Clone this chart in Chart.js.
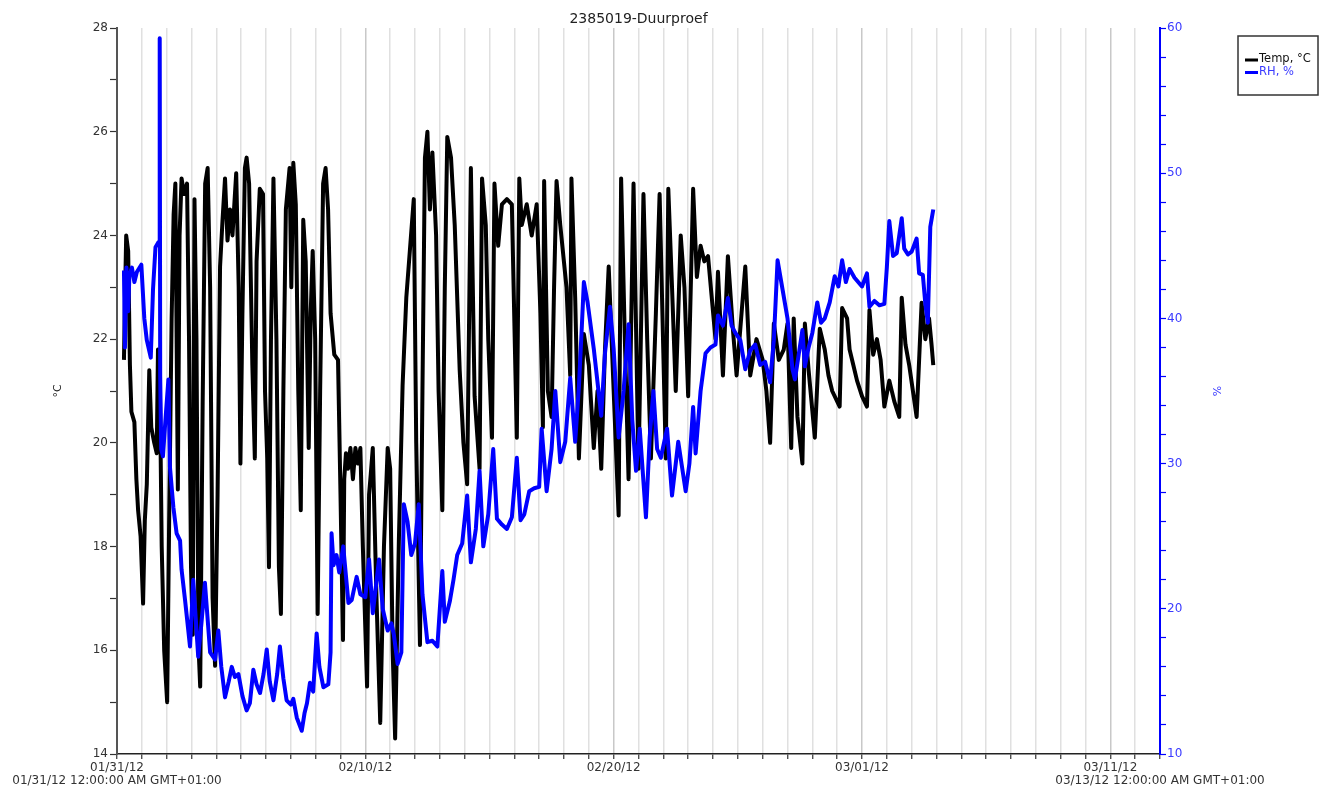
<!DOCTYPE html>
<html>
<head>
<meta charset="utf-8">
<title>2385019-Duurproef</title>
<script src="https://cdn.jsdelivr.net/npm/chart.js@4.4.1/dist/chart.umd.min.js"></script>
<style>
  html, body { margin: 0; padding: 0; background: #ffffff; }
  #wrap { width: 1330px; height: 791px; }
  canvas { display: block; }
</style>
</head>
<body>
<div id="wrap"><canvas id="chart" width="1330" height="791"></canvas></div>
<script>
// Logger run 2385019: days since 01/31/12 00:00 (GMT+01:00)
const tempDays = [
  0.28, 0.33, 0.37, 0.45, 0.52, 0.58, 0.70, 0.78, 0.85, 0.95, 1.05, 1.12, 1.20, 1.30, 1.38, 1.50, 1.60, 1.65, 1.72, 1.80, 1.90,
  2.02, 2.10, 2.20, 2.28, 2.35, 2.45, 2.52, 2.60, 2.70, 2.82, 2.90, 2.98,
  3.05, 3.12, 3.20, 3.28, 3.35, 3.45, 3.55, 3.65, 3.75, 3.85, 3.95,
  4.05, 4.15, 4.25, 4.35, 4.45, 4.55, 4.65, 4.80, 4.90, 4.97,
  5.05, 5.15, 5.22, 5.32, 5.45, 5.55, 5.62, 5.75, 5.88, 5.96,
  6.05, 6.12, 6.20, 6.30, 6.42, 6.52, 6.60, 6.70, 6.80, 6.95,
  7.02, 7.10, 7.20, 7.30, 7.40, 7.50, 7.60, 7.72, 7.80, 7.88, 7.98,
  8.08, 8.18, 8.30, 8.40, 8.50, 8.60, 8.75, 8.90,
  9.00, 9.10, 9.15, 9.22, 9.30, 9.40, 9.50, 9.60, 9.70, 9.80, 9.90,
  10.07, 10.15, 10.22, 10.30, 10.45, 10.60, 10.75, 10.90,
  11.00, 11.10, 11.20, 11.35, 11.50, 11.65, 11.80, 11.95,
  12.05, 12.20, 12.30, 12.40, 12.50, 12.60, 12.70, 12.85, 12.95,
  13.10, 13.20, 13.30, 13.45, 13.60, 13.80, 13.95,
  14.10, 14.25, 14.40, 14.60, 14.70, 14.85, 14.95,
  15.10, 15.20, 15.35, 15.50, 15.70, 15.90,
  16.10, 16.20, 16.30, 16.50, 16.70, 16.90,
  17.05, 17.15, 17.20, 17.35, 17.50, 17.60, 17.70, 17.85,
  18.10, 18.25, 18.30, 18.45, 18.60, 18.80,
  19.00, 19.20, 19.35, 19.50, 19.65, 19.80,
  20.00, 20.20, 20.30, 20.45, 20.60, 20.80,
  21.00, 21.20, 21.35, 21.50, 21.70, 21.85,
  22.10, 22.20, 22.35, 22.50, 22.70, 22.85,
  23.00, 23.20, 23.35, 23.50, 23.65, 23.80,
  24.10, 24.20, 24.40, 24.60, 24.80, 24.95,
  25.15, 25.30, 25.50, 25.75,
  26.00, 26.15, 26.30, 26.45, 26.65, 26.85,
  27.00, 27.15, 27.25, 27.40, 27.60, 27.70, 27.85,
  28.10, 28.30, 28.50, 28.65, 28.80,
  29.10, 29.20, 29.40, 29.50, 29.65, 29.80,
  30.00, 30.20, 30.30, 30.45, 30.60, 30.75, 30.90,
  31.10, 31.30, 31.50, 31.60, 31.75, 31.90,
  32.05, 32.20, 32.40, 32.55, 32.70, 32.80, 32.87
];
const tempValues = [
  21.6, 23.0, 24.0, 23.7, 21.5, 20.6, 20.4, 19.3, 18.7, 18.2, 16.9, 18.5, 19.2, 21.4, 20.3, 20.0, 19.8, 21.8, 21.4, 18.0, 16.0,
  15.0, 18.5, 22.4, 24.4, 25.0, 19.1, 24.0, 25.1, 24.8, 25.0, 22.0, 17.6,
  16.3, 24.7, 22.0, 16.1, 15.3, 20.8, 25.0, 25.3, 23.0, 17.0, 15.7,
  19.0, 23.4, 24.3, 25.1, 23.9, 24.5, 24.0, 25.2, 23.0, 19.6,
  22.5, 25.3, 25.5, 25.0, 21.5, 19.7, 23.5, 24.9, 24.8, 21.0,
  19.7, 17.6, 22.0, 25.1, 22.0, 17.6, 16.7, 21.0, 24.5, 25.3,
  23.0, 25.4, 24.6, 21.0, 18.7, 24.3, 23.5, 19.9, 22.5, 23.7, 22.0,
  16.7, 21.0, 25.0, 25.3, 24.5, 22.5, 21.7, 21.6,
  19.0, 16.2, 19.3, 19.8, 19.5, 19.9, 19.3, 19.9, 19.6, 19.9, 18.0,
  15.3, 19.0, 19.4, 19.9, 17.0, 14.6, 18.0, 19.9,
  19.5, 16.0, 14.3, 18.1, 21.1, 22.8, 23.75, 24.7,
  20.0, 16.1, 21.0, 25.5, 26.0, 24.5, 25.6, 24.0, 21.0,
  18.7, 23.0, 25.9, 25.5, 24.2, 21.4, 20.0,
  19.2, 25.3, 20.9, 19.5, 25.1, 24.2, 22.0,
  20.1, 25.0, 23.8, 24.6, 24.7, 24.6,
  20.1, 25.1, 24.2, 24.6, 24.0, 24.6,
  22.5, 20.3, 25.05, 21.0, 20.5, 23.0, 25.05, 24.2,
  23.0, 21.3, 25.1, 22.8, 19.7, 22.1,
  21.5, 19.9, 21.0, 19.5, 21.8, 23.4,
  21.0, 18.6, 25.1, 22.0, 19.3, 25.0,
  19.5, 24.8, 22.0, 19.7, 22.5, 24.8,
  19.7, 24.9, 23.0, 21.0, 24.0, 23.0,
  20.9, 24.9, 23.2, 23.8, 23.5, 23.6,
  22.0, 23.3, 21.3, 23.6, 22.2, 21.3,
  22.5, 23.4, 21.3, 22.0,
  21.6, 21.0, 20.0, 22.3, 21.6, 21.8,
  22.3, 19.9, 22.4, 20.5, 19.6, 22.3, 21.4,
  20.1, 22.2, 21.8, 21.3, 21.0,
  20.7, 22.6, 22.4, 21.8, 21.5, 21.2,
  20.9, 20.7, 22.56, 21.7, 22.0, 21.6, 20.7,
  21.2, 20.8, 20.5, 22.8, 21.9, 21.5,
  21.0, 20.5, 22.7, 22.0, 22.4, 21.9, 21.5
];

const rhDays = [
  0.28, 0.32, 0.38, 0.45, 0.50, 0.60, 0.70, 0.80, 0.98, 1.10, 1.20, 1.36, 1.45, 1.55, 1.65, 1.70,
  1.72, 1.74, 1.78, 1.85, 1.95, 2.07, 2.13, 2.27, 2.40, 2.54, 2.60, 2.74, 2.94,
  3.07, 3.27, 3.40, 3.54, 3.75, 3.95, 4.08, 4.20, 4.35, 4.50, 4.62, 4.75, 4.89,
  5.05, 5.22, 5.35, 5.49, 5.62, 5.76, 5.90, 6.03, 6.15, 6.30, 6.45, 6.56, 6.70, 6.83,
  7.00, 7.10, 7.24, 7.44, 7.55, 7.65, 7.77, 7.90, 8.04, 8.15, 8.31, 8.51, 8.60, 8.64, 8.72, 8.84, 8.95,
  9.11, 9.32, 9.45, 9.65, 9.80, 10.00, 10.15, 10.30, 10.55, 10.70, 10.90,
  11.05, 11.15, 11.30, 11.45, 11.55, 11.70, 11.85,
  12.00, 12.15, 12.30, 12.50, 12.70, 12.90, 13.10, 13.20, 13.40, 13.55, 13.70, 13.90,
  14.10, 14.25, 14.45, 14.60, 14.75, 14.95, 15.15, 15.30, 15.50, 15.70, 15.90,
  16.10, 16.25, 16.40, 16.60, 16.80, 17.00, 17.10, 17.30, 17.50, 17.65, 17.85,
  18.05, 18.25, 18.45, 18.60, 18.72, 18.80, 18.95, 19.20, 19.50, 19.65, 19.85,
  20.00, 20.20, 20.40, 20.60, 20.75, 20.90, 21.05, 21.30, 21.45, 21.60, 21.75, 21.90,
  22.15, 22.35, 22.50, 22.60, 22.90, 23.05, 23.20, 23.30, 23.50, 23.70, 23.90,
  24.10, 24.20, 24.40, 24.60, 24.75, 24.90, 25.10, 25.30, 25.50, 25.70, 25.90,
  26.10, 26.30, 26.45, 26.60, 26.80, 27.00, 27.20, 27.30, 27.45, 27.60, 27.70, 27.85,
  28.00, 28.20, 28.35, 28.50, 28.70, 28.90, 29.05, 29.20, 29.35, 29.50, 29.70,
  30.00, 30.20, 30.30, 30.50, 30.70, 30.90, 31.00, 31.10, 31.25, 31.40, 31.60, 31.70, 31.85,
  32.00, 32.20, 32.30, 32.45, 32.55, 32.65, 32.75, 32.87
];
const rhValues = [
  43.3, 38.0, 43.5, 40.5, 43.0, 43.5, 42.5, 43.2, 43.7, 40.0, 38.5, 37.3, 42.0, 44.9, 45.2, 45.3,
  59.3, 36.0, 31.0, 30.5, 33.0, 35.8, 29.8, 27.0, 25.2, 24.7, 22.7, 20.6, 17.4,
  22.0, 16.7, 19.0, 21.8, 17.0, 16.5, 18.5, 16.0, 13.9, 15.0, 16.0, 15.3, 15.5,
  14.0, 13.0, 13.5, 15.8, 14.8, 14.2, 15.5, 17.2, 15.0, 13.7, 15.5, 17.4, 15.2, 13.7,
  13.4, 13.8, 12.5, 11.6, 12.8, 13.5, 14.9, 14.3, 18.3, 16.0, 14.6, 14.8, 17.0, 25.2, 23.0, 23.7, 22.5,
  24.3, 20.4, 20.6, 22.2, 21.0, 20.8, 23.4, 19.7, 23.4, 20.0, 18.5,
  19.0, 18.2, 16.2, 17.0, 27.2, 26.0, 23.7,
  24.5, 27.2, 21.0, 17.7, 17.8, 17.4, 22.6, 19.1, 20.5, 22.0, 23.7, 24.5,
  27.8, 23.2, 25.5, 29.5, 24.3, 26.5, 31.0, 26.2, 25.8, 25.5, 26.3,
  30.4, 26.1, 26.5, 28.1, 28.3, 28.4, 32.4, 28.1, 31.0, 35.0, 30.1,
  31.5, 35.9, 31.5, 35.3, 39.5, 42.5, 41.1, 37.9, 33.3, 37.6, 40.8,
  37.9, 31.8, 35.0, 39.6, 33.0, 29.5, 32.4, 26.3, 31.8, 35.0, 31.0, 30.4,
  32.4, 27.8, 30.0, 31.5, 28.1, 30.0, 33.9, 30.7, 35.0, 37.6, 38.0,
  38.2, 40.2, 39.5, 41.4, 39.5, 39.0, 38.5, 36.5, 37.8, 38.2, 36.8,
  37.0, 35.6, 38.5, 44.0, 42.0, 40.0, 36.5, 35.8, 37.5, 39.2, 36.7, 38.0,
  39.0, 41.1, 39.7, 40.0, 41.1, 42.9, 42.2, 44.0, 42.5, 43.4, 42.8,
  42.2, 43.1, 40.8, 41.2, 40.9, 41.0, 43.5, 46.7, 44.3, 44.5, 46.9, 44.8, 44.4,
  44.6, 45.5, 43.1, 43.0, 41.0, 39.7, 46.3, 47.5
];

// Axis ranges and labels
const xRange = [0, 42];
const xTickDays = [0, 10, 20, 30, 40];
const xTickLabels = ['01/31/12', '02/10/12', '02/20/12', '03/01/12', '03/11/12'];
const xEndLabels = ['01/31/12 12:00:00 AM GMT+01:00', '03/13/12 12:00:00 AM GMT+01:00'];
const tempRange = [14, 28];
const rhRange = [10, 60];
const seriesNames = ['Temp, °C', 'RH, %'];
const chartTitle = '2385019-Duurproef';

const FONT = '"DejaVu Sans", "Liberation Sans", sans-serif';
const BLUE = '#0000ff';
const BLUE_TEXT = '#3a3aff';

const toPoints = (xs, ys) => xs.map((x, i) => ({ x: x, y: ys[i] }));

// Extra text: title, axis titles, full timestamps at the axis ends, legend box
const decorations = {
  id: 'decorations',
  afterDraw(chart) {
    const ctx = chart.ctx;
    const area = chart.chartArea;
    ctx.save();

    ctx.fillStyle = '#222';
    ctx.font = '14px ' + FONT;
    ctx.textAlign = 'center';
    ctx.textBaseline = 'middle';
    ctx.fillText(chartTitle, (area.left + area.right) / 2, 19);

    ctx.font = '11px ' + FONT;
    ctx.save();
    ctx.translate(58, (area.top + area.bottom) / 2);
    ctx.rotate(-Math.PI / 2);
    ctx.fillStyle = '#222';
    ctx.fillText('°C', 0, 0);
    ctx.restore();
    ctx.save();
    ctx.translate(1218, (area.top + area.bottom) / 2);
    ctx.rotate(-Math.PI / 2);
    ctx.fillStyle = BLUE_TEXT;
    ctx.fillText('%', 0, 0);
    ctx.restore();

    ctx.font = '12px ' + FONT;
    ctx.fillStyle = '#333';
    ctx.fillText(xEndLabels[0], area.left, 781);
    ctx.fillText(xEndLabels[1], area.right, 781);

    // legend
    const lx = 1238, ly = 36, lw = 80, lh = 59;
    ctx.strokeStyle = '#333';
    ctx.lineWidth = 1.5;
    ctx.strokeRect(lx, ly, lw, lh);
    ctx.font = '11.5px ' + FONT;
    ctx.textAlign = 'left';
    const colors = ['#000', BLUE];
    const textColors = ['#111', BLUE_TEXT];
    seriesNames.forEach((name, i) => {
      const y = 60 + i * 12.5;
      ctx.strokeStyle = colors[i];
      ctx.lineWidth = 3;
      ctx.beginPath();
      ctx.moveTo(1245, y);
      ctx.lineTo(1258, y);
      ctx.stroke();
      ctx.fillStyle = textColors[i];
      ctx.fillText(name, 1259, y - 0.5);
    });
    ctx.restore();
  }
};

new Chart(document.getElementById('chart').getContext('2d'), {
  type: 'line',
  data: {
    datasets: [
      {
        label: seriesNames[1],
        data: toPoints(rhDays, rhValues),
        yAxisID: 'yRH',
        borderColor: BLUE,
        borderWidth: 4,
        borderJoinStyle: 'round',
        pointRadius: 0,
        tension: 0,
        order: 0
      },
      {
        label: seriesNames[0],
        data: toPoints(tempDays, tempValues),
        yAxisID: 'yT',
        borderColor: '#000000',
        borderWidth: 4,
        borderJoinStyle: 'round',
        pointRadius: 0,
        tension: 0,
        order: 1
      }
    ]
  },
  options: {
    responsive: false,
    animation: false,
    devicePixelRatio: 1,
    layout: { padding: { top: 28, left: 0, right: 0, bottom: 0 } },
    plugins: {
      legend: { display: false },
      title: { display: false },
      tooltip: { enabled: false }
    },
    scales: {
      x: {
        type: 'linear',
        position: 'bottom',
        min: xRange[0],
        max: xRange[1],
        ticks: {
          stepSize: 1,
          autoSkip: false,
          maxTicksLimit: 1000,
          maxRotation: 0,
          padding: 2,
          color: '#333',
          font: { family: FONT, size: 12 },
          callback: (v) => {
            const k = xTickDays.indexOf(v);
            return k >= 0 ? xTickLabels[k] : '';
          }
        },
        grid: {
          color: (c) => (c.tick && c.tick.value % 10 === 0) ? '#c8c8c8' : '#e0e0e0',
          lineWidth: 1.5,
          tickLength: 5,
          tickColor: '#333',
          tickWidth: 1.2
        },
        border: { color: '#222', width: 1.5 },
        afterFit: (s) => { s.height = 37; }
      },
      yT: {
        type: 'linear',
        position: 'left',
        min: tempRange[0],
        max: tempRange[1],
        ticks: {
          stepSize: 1,
          maxTicksLimit: 1000,
          padding: 2,
          color: '#333',
          font: { family: FONT, size: 12 },
          callback: (v) => (v % 2 === 0 ? String(v) : '')
        },
        grid: {
          drawOnChartArea: false,
          tickLength: 7,
          tickColor: '#333',
          tickWidth: 1.2
        },
        border: { color: '#555', width: 2 },
        afterFit: (s) => { s.width = 117; }
      },
      yRH: {
        type: 'linear',
        position: 'right',
        min: rhRange[0],
        max: rhRange[1],
        ticks: {
          stepSize: 2,
          maxTicksLimit: 1000,
          padding: 1,
          color: BLUE_TEXT,
          font: { family: FONT, size: 12 },
          callback: (v) => (v % 10 === 0 ? String(v) : '')
        },
        grid: {
          drawOnChartArea: false,
          tickLength: 6,
          tickColor: BLUE,
          tickWidth: 1.2
        },
        border: { color: BLUE, width: 2 },
        afterFit: (s) => { s.width = 170; }
      }
    }
  },
  plugins: [decorations]
});
</script>
</body>
</html>
